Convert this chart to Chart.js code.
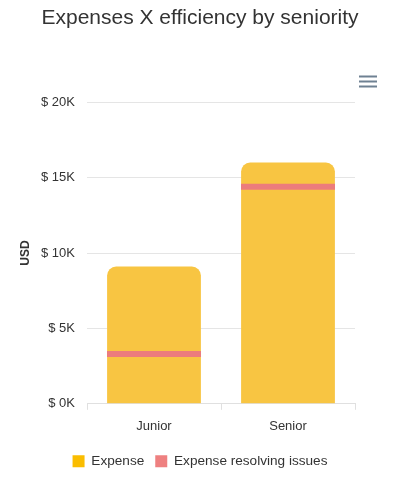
<!DOCTYPE html>
<html>
<head>
<meta charset="utf-8">
<script src="https://cdn.jsdelivr.net/npm/chart.js@4/dist/chart.umd.min.js"></script>
<style>
  html, body { margin: 0; padding: 0; background: #fff; }
  #wrap { width: 400px; height: 500px; position: relative; }
</style>
</head>
<body>
<div id="wrap"><canvas id="c" width="400" height="500"></canvas></div>
<script>
const categories = ['Junior', 'Senior'];
const expense = [9100, 16000];
const resolvingIssues = [3300, 14400];
const yTickValues = [0, 5000, 10000, 15000, 20000];
const seriesNames = ['Expense', 'Expense resolving issues'];

const FONT = "'Liberation Sans', Arial, Helvetica, sans-serif";
const legendColors = ['#FABD00', '#EE8080'];

const menuIcon = {
  id: 'menuIcon',
  afterDraw(chart) {
    const ctx = chart.ctx;
    ctx.save();
    ctx.strokeStyle = '#6E8192';
    ctx.lineWidth = 2;
    [76.5, 81.5, 86.5].forEach(y => {
      ctx.beginPath();
      ctx.moveTo(359, y);
      ctx.lineTo(377, y);
      ctx.stroke();
    });
    ctx.restore();
  }
};

new Chart(document.getElementById('c'), {
  data: {
    labels: categories,
    datasets: [
      {
        type: 'bar',
        label: seriesNames[0],
        data: expense,
        backgroundColor: '#F8C542',
        borderRadius: { topLeft: 9, topRight: 9, bottomLeft: 0, bottomRight: 0 },
        borderSkipped: 'bottom',
        categoryPercentage: 0.7,
        barPercentage: 1.0,
        order: 2
      },
      {
        type: 'line',
        label: seriesNames[1],
        data: resolvingIssues,
        showLine: false,
        pointStyle: 'line',
        pointRadius: 47,
        pointHoverRadius: 47,
        pointBorderWidth: 6,
        pointHoverBorderWidth: 6,
        borderColor: '#EC7C7C',
        backgroundColor: '#EC7C7C',
        clip: false,
        order: 1
      }
    ]
  },
  options: {
    responsive: false,
    animation: false,
    devicePixelRatio: 1,
    layout: { autoPadding: false, padding: { top: 6, bottom: 22, left: 10, right: 10 } },
    plugins: {
      title: {
        display: true,
        text: 'Expenses X efficiency by seniority',
        color: '#333333',
        font: { family: FONT, size: 21, weight: 'normal' },
        padding: { top: 0, bottom: 71 }
      },
      legend: {
        position: 'bottom',
        labels: {
          font: { family: FONT, size: 13.6 },
          color: '#333333',
          boxWidth: 12,
          boxHeight: 12,
          padding: 11,
          generateLabels(chart) {
            return seriesNames.map((n, i) => ({
              text: n,
              fillStyle: legendColors[i],
              strokeStyle: legendColors[i],
              lineWidth: 0,
              hidden: false,
              datasetIndex: i,
              fontColor: '#333333'
            }));
          }
        }
      },
      tooltip: { enabled: false }
    },
    scales: {
      x: {
        type: 'category',
        offset: true,
        afterFit(scale) { scale.paddingRight = 45; scale.paddingLeft = 0; },
        grid: {
          display: true,
          drawOnChartArea: false,
          drawTicks: true,
          tickLength: 6,
          color: '#E0E0E0',
          offset: true
        },
        border: { display: true, color: '#E0E0E0' },
        ticks: {
          font: { family: FONT, size: 13 },
          color: '#333333',
          padding: 9
        }
      },
      y: {
        min: 0,
        max: 20000,
        afterBuildTicks(scale) {
          scale.ticks = yTickValues.map(v => ({ value: v }));
        },
        afterFit(scale) { scale.width = 77; },
        grid: { color: '#E5E5E5', drawTicks: false },
        border: { display: false },
        ticks: {
          font: { family: FONT, size: 13 },
          color: '#333333',
          padding: 12,
          callback: v => '$ ' + (v / 1000) + 'K'
        },
        title: {
          display: true,
          text: 'USD',
          color: '#333333',
          font: { family: FONT, size: 12, weight: 'bold' },
          padding: { top: 8, bottom: 0 }
        }
      }
    }
  },
  plugins: [menuIcon]
});
</script>
</body>
</html>
